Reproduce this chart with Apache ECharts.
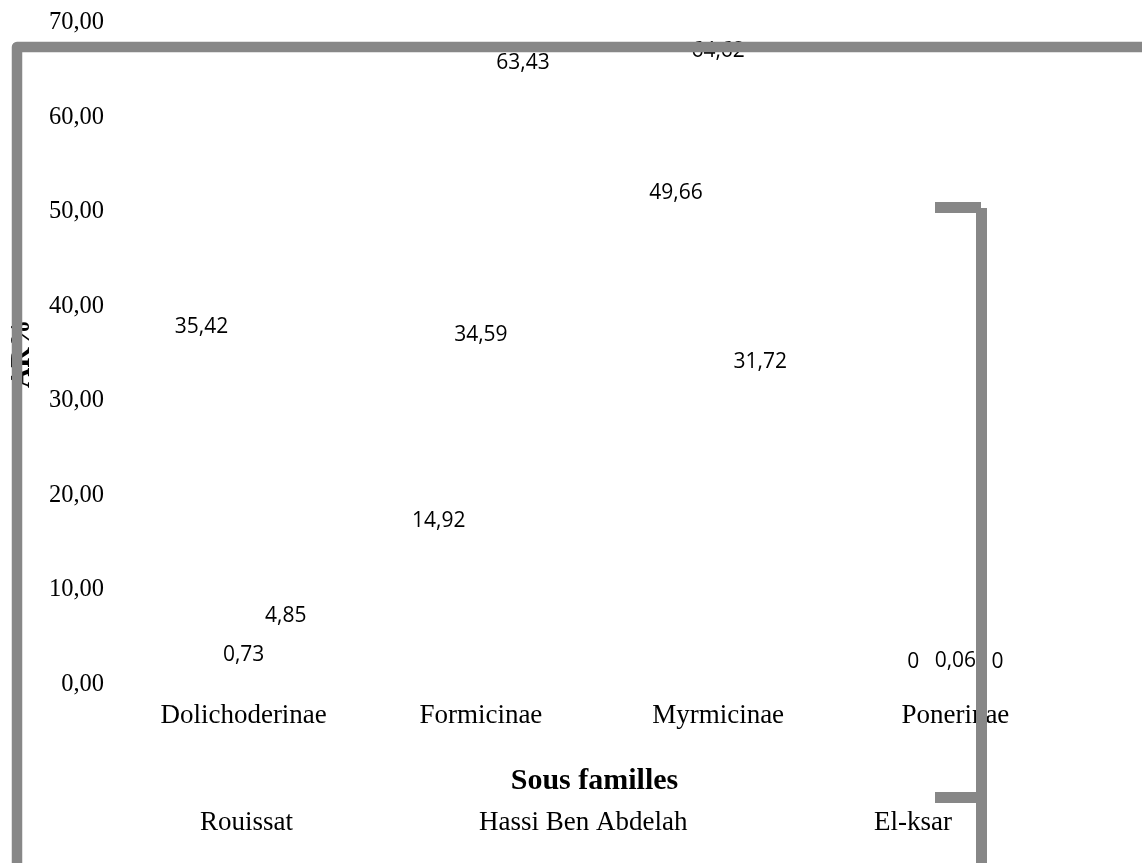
<!DOCTYPE html>
<html>
<head>
<meta charset="utf-8">
<script src="https://cdn.jsdelivr.net/npm/echarts@6/dist/echarts.min.js"></script>
<style>
  html, body { margin: 0; padding: 0; background: #ffffff; }
  #chart { width: 1142px; height: 863px; }
</style>
</head>
<body>
<div id="chart"></div>
<script>
// Sous-familles de fourmis : abondance relative (AR %) par station
const categories = ['Dolichoderinae', 'Formicinae', 'Myrmicinae', 'Ponerinae'];
const stations = ['Rouissat', 'Hassi Ben Abdelah', 'El-ksar'];
const rouissat = [35.42, 14.92, 49.66, 0];
const hassiBenAbdelah = [0.73, 34.59, 64.62, 0.06];
const elKsar = [4.85, 63.43, 31.72, 0];
const yTicks = { min: 0, max: 70, interval: 10 };

const serif = '"Liberation Serif", "Times New Roman", serif';
const sans = '"Open Sans", "Noto Sans", sans-serif';
const frameGray = '#878787';

const fmtComma = v => String(v).replace('.', ',');

function makeSeries(name, values) {
  return {
    name: name,
    type: 'bar',
    data: values,
    barWidth: 36,
    barGap: '17%',
    itemStyle: { color: 'rgba(255,255,255,0)' },
    label: {
      show: true,
      position: 'top',
      distance: 12,
      color: '#000000',
      fontFamily: sans,
      fontSize: 21,
      formatter: p => fmtComma(p.value)
    }
  };
}

// left edge of each legend entry (entries are spread under the plot)
const legendLefts = [190, 469, 864];

const chart = echarts.init(document.getElementById('chart'), null, { renderer: 'canvas' });
chart.setOption({
  backgroundColor: '#ffffff',
  animation: false,
  grid: { left: 120, right: 68, top: 23, bottom: 178.5, containLabel: false },
  legend: stations.map((s, i) => ({
    data: [s],
    left: legendLefts[i],
    top: 804,
    icon: 'none',
    itemWidth: 0,
    itemHeight: 0,
    selectedMode: false,
    textStyle: { fontFamily: serif, fontSize: 27, color: '#000000' }
  })),
  xAxis: {
    type: 'category',
    data: categories,
    name: 'Sous familles',
    nameLocation: 'middle',
    nameGap: 82,
    nameTextStyle: {
      fontFamily: serif, fontSize: 30, fontWeight: 'bold', color: '#000000',
      padding: [0, 10, 0, 0]
    },
    axisLine: { show: false },
    axisTick: { show: false },
    axisLabel: { margin: 18, fontFamily: serif, fontSize: 27, color: '#000000' }
  },
  yAxis: {
    type: 'value',
    min: yTicks.min,
    max: yTicks.max,
    interval: yTicks.interval,
    name: 'AR%',
    nameLocation: 'middle',
    nameRotate: 90,
    nameGap: 89,
    nameTextStyle: { fontFamily: serif, fontSize: 28, fontWeight: 'bold', color: '#000000' },
    axisLine: { show: false },
    axisTick: { show: false },
    splitLine: { show: false },
    axisLabel: {
      margin: 21,
      fontFamily: serif,
      fontSize: 24.5,
      color: '#000000',
      formatter: v => v.toFixed(2).replace('.', ',')
    }
  },
  series: [
    makeSeries(stations[0], rouissat),
    makeSeries(stations[1], hassiBenAbdelah),
    makeSeries(stations[2], elKsar)
  ],
  graphic: [
    {
      type: 'polyline',
      z: 100,
      shape: { points: [[17, 880], [17, 47], [1160, 47]] },
      style: { stroke: frameGray, lineWidth: 10.5, fill: null, lineJoin: 'round' }
    },
    { type: 'rect', z: 100, shape: { x: 935, y: 202, width: 46, height: 11 }, style: { fill: frameGray } },
    { type: 'rect', z: 100, shape: { x: 976, y: 208, width: 11, height: 670 }, style: { fill: frameGray } },
    { type: 'rect', z: 100, shape: { x: 935, y: 792, width: 41, height: 11 }, style: { fill: frameGray } }
  ]
});
</script>
</body>
</html>
